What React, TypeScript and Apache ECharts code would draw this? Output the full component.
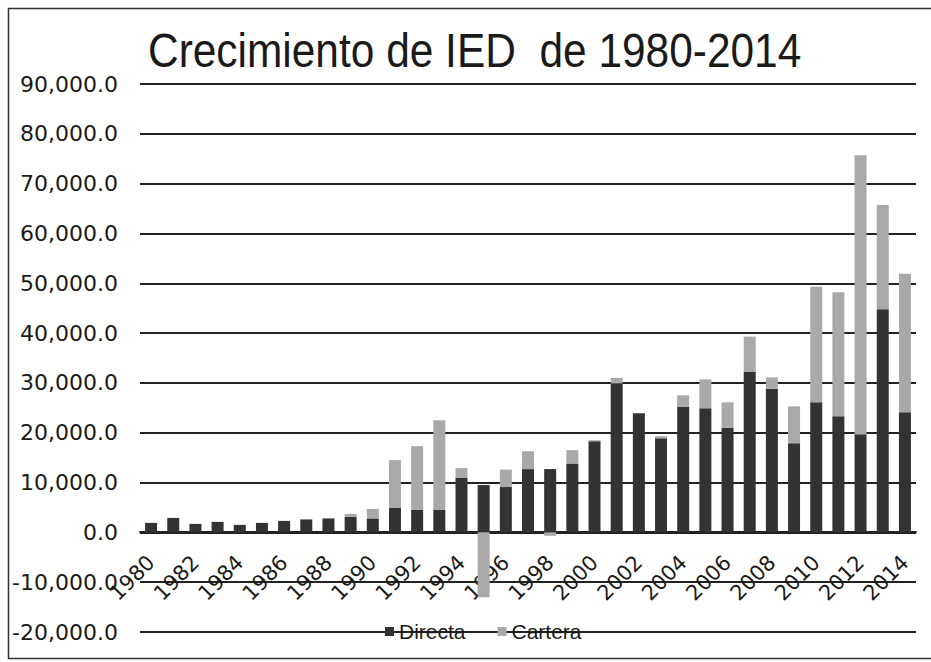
import React, { useEffect, useRef } from "react";
import * as echarts from "echarts";

const years: string[] = [
  "1980","1981","1982","1983","1984","1985","1986","1987","1988","1989",
  "1990","1991","1992","1993","1994","1995","1996","1997","1998","1999",
  "2000","2001","2002","2003","2004","2005","2006","2007","2008","2009",
  "2010","2011","2012","2013","2014",
];

const directa: number[] = [
  1900, 2900, 1700, 2100, 1500, 1900, 2300, 2600, 2800, 3100,
  2800, 4900, 4500, 4500, 11000, 9500, 9100, 12700, 12700, 13800,
  18300, 29900, 23900, 18900, 25200, 24900, 21000, 32200, 28800, 17900,
  26100, 23300, 19700, 44800, 24100,
];

const cartera: number[] = [
  0, 0, 0, 0, 0, 0, 0, 0, 0, 600,
  1900, 9600, 12800, 18000, 1900, -13000, 3500, 3600, -700, 2700,
  200, 1100, 0, 400, 2300, 5800, 5100, 7100, 2300, 7400,
  23200, 24900, 56000, 20900, 27800,
];

const titleText = "Crecimiento de IED  de 1980-2014";
const yMin = -20000;
const yMax = 90000;
const yStep = 10000;

export default function App() {
  const ref = useRef<HTMLDivElement>(null);

  useEffect(() => {
    if (!ref.current) return;
    const chart = echarts.init(ref.current, null, { renderer: "svg" });
    const gridTop = 84;
    const gridBottom = 30;
    const plotH = 662 - gridTop - gridBottom;
    const zeroOffset = Math.round((plotH * (0 - yMin)) / (yMax - yMin));
    chart.setOption({
      animation: false,
      backgroundColor: "#ffffff",
      legend: {
        left: 380,
        top: 616,
        icon: "rect",
        itemWidth: 9,
        itemHeight: 9,
        itemGap: 32,
        textStyle: {
          fontFamily: "'Liberation Sans', Arial, sans-serif",
          fontSize: 21,
          color: "#1a1a1a",
        },
        data: ["Directa", "Cartera"],
      },
      graphic: [
        {
          type: "rect",
          shape: { x: 8.5, y: 8.5, width: 940, height: 650 },
          style: { fill: "none", stroke: "#333333", lineWidth: 1.5 },
          z: 0,
          silent: true,
        },
        {
          type: "text",
          x: 148,
          y: 50,
          scaleX: 0.866,
          style: {
            text: titleText,
            fontFamily: "'Liberation Sans', Arial, sans-serif",
            fontSize: 49,
            fill: "#1a1a1a",
            textAlign: "left",
            textVerticalAlign: "middle",
          },
          z: 10,
        },
      ],
      grid: {
        left: 140,
        right: 15,
        top: gridTop,
        bottom: gridBottom,
        containLabel: false,
        outerBoundsMode: "none",
      },
      xAxis: {
        type: "category",
        data: years,
        offset: -zeroOffset,
        axisLine: { onZero: false, lineStyle: { color: "#222222", width: 2 } },
        axisTick: { show: false },
        axisLabel: {
          interval: 1,
          rotate: 45,
          margin: 27,
          fontFamily: "'DejaVu Sans', sans-serif",
          fontSize: 21,
          color: "#1a1a1a",
        },
      },
      yAxis: {
        type: "value",
        min: yMin,
        max: yMax,
        interval: yStep,
        axisLine: { show: false },
        axisTick: { show: false },
        splitLine: { lineStyle: { color: "#222222", width: 2 } },
        axisLabel: {
          margin: 22,
          fontFamily: "'DejaVu Sans', sans-serif",
          fontSize: 22,
          color: "#1a1a1a",
          formatter: (v: number) =>
            v.toLocaleString("en-US", { minimumFractionDigits: 1, maximumFractionDigits: 1 }),
        },
      },
      series: [
        {
          name: "Directa",
          type: "bar",
          stack: "ied",
          data: directa,
          barWidth: 12,
          itemStyle: { color: "#333333" },
        },
        {
          name: "Cartera",
          type: "bar",
          stack: "ied",
          data: cartera,
          barWidth: 12,
          itemStyle: { color: "#a9a9a9" },
        },
      ],
    });
    return () => chart.dispose();
  }, []);

  return (
    <div
      ref={ref}
      style={{ position: "fixed", left: 0, top: 0, width: 931, height: 662 }}
    />
  );
}
